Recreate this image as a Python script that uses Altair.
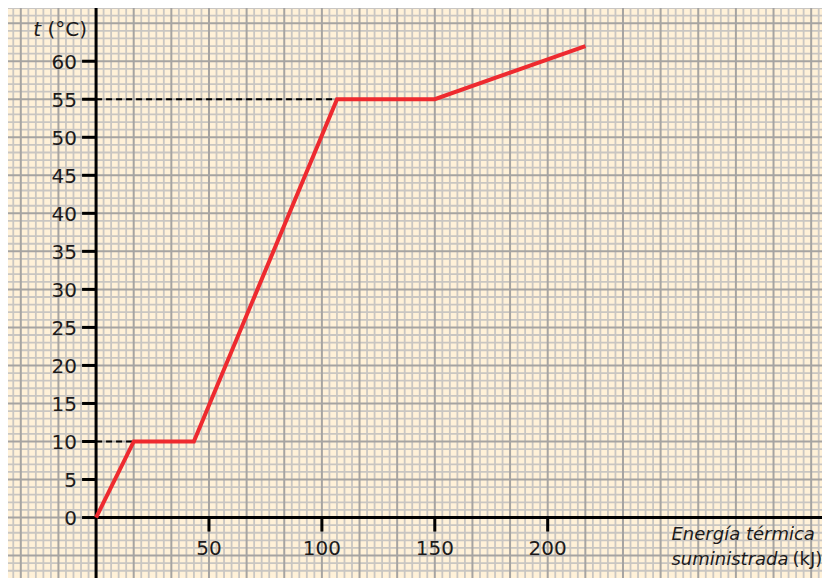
import altair as alt
import pandas as pd

# ---- data ----
energy = [0, 16.7, 43.3, 106.7, 150, 216.7]      # kJ
temperature = [0, 10, 10, 55, 55, 62]            # °C

guide_x = [16.7, 106.7]
guide_y = [10, 55]

x_ticks = [50, 100, 150, 200]
y_ticks = [0, 5, 10, 15, 20, 25, 30, 35, 40, 45, 50, 55, 60]

# ---- layout ----
W, H = 814, 570
PX_X, PX_Y = 2.2582, 7.605          # pixels per kJ / per °C
X_DOM = [-39, -39 + W / PX_X]
Y_DOM = [67 - H / PX_Y, 67]
FONT = "DejaVu Sans"
INK = "#1c1a1a"

# graph-paper grid (decorative): x every 10/3 kJ, y every 1 °C
kx = list(range(-11, 97))
gy = list(range(-7, 68))
grid_v = pd.DataFrame({"x": [k * 10 / 3 for k in kx], "major": [k % 5 == 0 for k in kx]})
grid_h = pd.DataFrame({"y": gy, "major": [k % 5 == 0 for k in gy]})

xs = alt.Scale(domain=X_DOM, nice=False, zero=False)
ys = alt.Scale(domain=Y_DOM, nice=False, zero=False)


def X(field):
    return alt.X(field, type="quantitative", scale=xs, axis=None)


def Y(field):
    return alt.Y(field, type="quantitative", scale=ys, axis=None)


def XD(v):
    return alt.X(datum=v, type="quantitative", scale=xs, axis=None)


def YD(v):
    return alt.Y(datum=v, type="quantitative", scale=ys, axis=None)


minor_c, major_c = "#c9c6c2", "#a6a4a2"

vminor = alt.Chart(grid_v).transform_filter("!datum.major").mark_rule(
    color=minor_c, strokeWidth=1.8).encode(x=X("x"))
vmajor = alt.Chart(grid_v).transform_filter("datum.major").mark_rule(
    color=major_c, strokeWidth=2).encode(x=X("x"))
hminor = alt.Chart(grid_h).transform_filter("!datum.major").mark_rule(
    color=minor_c, strokeWidth=1.8).encode(y=Y("y"))
hmajor = alt.Chart(grid_h).transform_filter("datum.major").mark_rule(
    color=major_c, strokeWidth=2).encode(y=Y("y"))

guides = pd.DataFrame({"x0": [0, 0], "x": guide_x, "y": guide_y})
dashed = alt.Chart(guides).mark_rule(
    color="black", strokeWidth=2, strokeDash=[6, 4]
).encode(x=X("x0"), x2="x", y=Y("y"))

one = pd.DataFrame({"a": [0]})

x_axis_line = alt.Chart(one).mark_rule(color="black", strokeWidth=3).encode(
    x=XD(0), x2=alt.datum(X_DOM[1]), y=YD(0))
y_axis_line = alt.Chart(one).mark_rule(color="black", strokeWidth=3).encode(
    x=XD(0), y=YD(Y_DOM[0]), y2=alt.datum(Y_DOM[1]))

xt = pd.DataFrame({"v": x_ticks})
yt = pd.DataFrame({"v": y_ticks})

x_tick_marks = alt.Chart(xt).mark_rule(color="black", strokeWidth=3, y2Offset=14).encode(
    x=X("v"), y=YD(0), y2=alt.datum(0))
y_tick_marks = alt.Chart(yt).mark_rule(color="black", strokeWidth=3, x2Offset=-14).encode(
    y=Y("v"), x=XD(0), x2=alt.datum(0))

x_tick_labels = alt.Chart(xt).mark_text(
    font=FONT, fontSize=20, color=INK, align="center", baseline="alphabetic", dy=37
).encode(x=X("v"), y=YD(0), text=alt.Text("v:Q"))
y_tick_labels = alt.Chart(yt).mark_text(
    font=FONT, fontSize=20, color=INK, align="right", baseline="alphabetic", dx=-19, dy=7.5
).encode(y=Y("v"), x=XD(0), text=alt.Text("v:Q"))

curve = pd.DataFrame({"x": energy, "y": temperature})
line = alt.Chart(curve).mark_line(
    color="#ee2a2f", strokeWidth=4, strokeJoin="miter", strokeCap="butt"
).encode(x=X("x"), y=Y("y"))


def label(text, x, y, italic, align, size, dx=0):
    return alt.Chart(one).mark_text(
        text=text, font=FONT, fontSize=size,
        fontStyle="italic" if italic else "normal", color=INK,
        align=align, baseline="alphabetic", dx=dx,
    ).encode(x=XD(x), y=YD(y))


t_lbl = label("t", 0, 63.3, True, "right", 20, dx=-55)
c_lbl = label("(°C)", 0, 63.3, False, "right", 20, dx=-9)
e1 = label("Energía térmica", 254.8, -3.0, True, "left", 18)
e2 = label("suministrada", 254.8, -6.3, True, "left", 18)
e3 = label("(kJ)", 254.8, -6.3, False, "left", 18, dx=121)

chart = alt.layer(
    hminor, vminor, hmajor, vmajor, dashed, x_axis_line, y_axis_line,
    x_tick_marks, y_tick_marks, x_tick_labels, y_tick_labels, line,
    t_lbl, c_lbl, e1, e2, e3,
).properties(
    width=W, height=H, padding=0, autosize=alt.AutoSizeParams(type="none"),
).configure_view(fill="#fff1d8", stroke=None)

chart.save("out.html", embed_options={"renderer": "svg", "actions": False})
